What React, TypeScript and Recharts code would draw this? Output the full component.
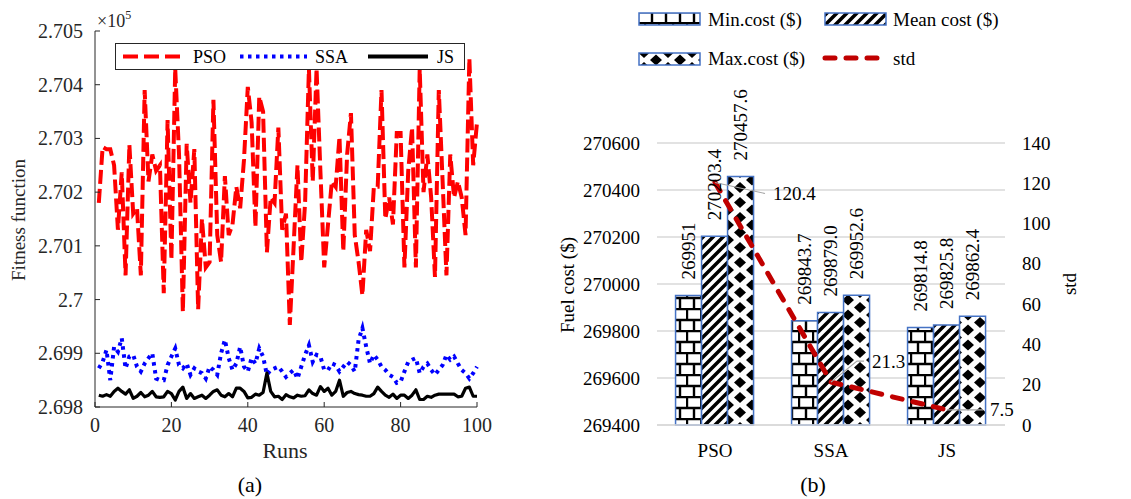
import { LineChart, Line, XAxis, YAxis, Legend, ComposedChart, Bar, CartesianGrid, LabelList } from 'recharts';

const SERIF = "'Liberation Serif', 'Times New Roman', serif";

// panel (a): fitness per run (x 1e5)
const runs = Array.from({ length: 100 }, (_, i) => i + 1);
const psoFitness = [
  2.7018, 2.70284, 2.7028, 2.7028, 2.7025, 2.7013, 2.70237, 2.70045, 2.70288, 2.7016,
  2.7017, 2.70045, 2.7039, 2.7022, 2.7027, 2.7024, 2.7025, 2.70012, 2.70334, 2.70074,
  2.7043, 2.7027, 2.69977, 2.7029, 2.7018, 2.7028, 2.69982, 2.7015, 2.7006, 2.7007,
  2.70372, 2.7012, 2.7007, 2.7023, 2.7012, 2.7014, 2.7021, 2.7017, 2.7026, 2.70396,
  2.7033, 2.70135, 2.70378, 2.7035, 2.70088, 2.7019, 2.7018, 2.7032, 2.7013, 2.7016,
  2.69953, 2.701, 2.7025, 2.7007, 2.7018, 2.7043, 2.7022, 2.7043, 2.7024, 2.7006,
  2.7014, 2.7022, 2.7021, 2.70303, 2.7009, 2.7027, 2.70347, 2.7012, 2.7007, 2.70008,
  2.7013, 2.7009, 2.7021, 2.7021, 2.7039, 2.7015, 2.7019, 2.7014, 2.7031, 2.7031,
  2.7006, 2.7024, 2.7032, 2.7006, 2.7043, 2.702, 2.7027, 2.7019, 2.70042, 2.7039,
  2.7022, 2.70045, 2.7027, 2.7019, 2.7022, 2.7019, 2.7012, 2.70449, 2.7025, 2.7033,
];
const ssaFitness = [
  2.69872, 2.69884, 2.69906, 2.6985, 2.69912, 2.69903, 2.69928, 2.69872, 2.69894, 2.69897,
  2.69875, 2.69866, 2.69881, 2.69891, 2.699, 2.69853, 2.6985, 2.6985, 2.69878, 2.69894,
  2.69909, 2.69878, 2.69872, 2.69881, 2.6986, 2.69872, 2.69866, 2.69863, 2.69853, 2.69875,
  2.69869, 2.6986, 2.699, 2.69925, 2.69891, 2.69869, 2.69881, 2.69912, 2.69875, 2.69866,
  2.69891, 2.69881, 2.69909, 2.69894, 2.6986, 2.69869, 2.69872, 2.69875, 2.69866, 2.69856,
  2.69863, 2.69869, 2.69853, 2.69875, 2.69897, 2.69915, 2.69884, 2.69897, 2.69894, 2.69869,
  2.69869, 2.69881, 2.69878, 2.69866, 2.69875, 2.69884, 2.69878, 2.69866, 2.69925, 2.69947,
  2.69912, 2.69881, 2.69897, 2.69888, 2.69875, 2.69869, 2.6986, 2.69856, 2.69845, 2.69847,
  2.69866, 2.69884, 2.69888, 2.69891, 2.69863, 2.69875, 2.69881, 2.69869, 2.6986, 2.69869,
  2.69878, 2.69897, 2.69888, 2.69894, 2.69881, 2.69869, 2.69863, 2.69853, 2.69863, 2.69875,
];
const jsFitness = [
  2.69822, 2.6982, 2.69823, 2.6982, 2.69829, 2.69835, 2.69829, 2.69824, 2.69832, 2.69816,
  2.6982, 2.69827, 2.69819, 2.69822, 2.69829, 2.69819, 2.69818, 2.69819, 2.69829, 2.69825,
  2.69813, 2.69829, 2.69837, 2.69816, 2.69825, 2.69816, 2.69819, 2.69822, 2.69816, 2.69822,
  2.69829, 2.69832, 2.69822, 2.69819, 2.69825, 2.69819, 2.69835, 2.69835, 2.69829, 2.69817,
  2.69818, 2.69824, 2.69822, 2.69827, 2.69863, 2.69829, 2.69819, 2.6982, 2.69814, 2.69823,
  2.69819, 2.69817, 2.69822, 2.6982, 2.69821, 2.69832, 2.69825, 2.69822, 2.69838, 2.69829,
  2.69835, 2.69822, 2.69829, 2.6985, 2.6982, 2.69827, 2.69829, 2.69825, 2.69823, 2.69822,
  2.6982, 2.6982, 2.69825, 2.69837, 2.69829, 2.69822, 2.69818, 2.69824, 2.69816, 2.69822,
  2.69822, 2.69816, 2.69822, 2.69832, 2.69814, 2.69814, 2.6982, 2.69818, 2.69822, 2.69824,
  2.69824, 2.69824, 2.69824, 2.69824, 2.69819, 2.6982, 2.69835, 2.69837, 2.6982, 2.6982,
];
const runTicks = [0, 20, 40, 60, 80, 100];
const fitnessTicks = [2.698, 2.699, 2.7, 2.701, 2.702, 2.703, 2.704, 2.705];

// panel (b): cost statistics
const algorithms = ['PSO', 'SSA', 'JS'];
const minCost = [269951, 269843.7, 269814.8];
const meanCost = [270203.4, 269879.0, 269825.8];
const maxCost = [270457.6, 269952.6, 269862.4];
const stdCost = [120.4, 21.3, 7.5];
const minCostText = ['269951', '269843.7', '269814.8'];
const meanCostText = ['270203.4', '269879.0', '269825.8'];
const maxCostText = ['270457.6', '269952.6', '269862.4'];
const costTicks = [269400, 269600, 269800, 270000, 270200, 270400, 270600];
const stdTicks = [0, 20, 40, 60, 80, 100, 120, 140];

const fitnessData = runs.map((run, i) => ({ run, pso: psoFitness[i], ssa: ssaFitness[i], js: jsFitness[i] }));
const costData = algorithms.map((name, i) => ({
  name,
  min: minCost[i],
  mean: meanCost[i],
  max: maxCost[i],
  std: stdCost[i],
  minText: minCostText[i],
  meanText: meanCostText[i],
  maxText: maxCostText[i],
}));

const AXIS = '#262626';
const fmtFit = (v: number) => String(Number(v.toFixed(3)));

// matlab style inward ticks
const FitYTick = (p: any) => (
  <g>
    <line x1={p.x} y1={p.y} x2={p.x + 5} y2={p.y} stroke={AXIS} />
    <text x={p.x - 12} y={p.y} textAnchor="end" dominantBaseline="central" fontSize={20} fill={AXIS} fontFamily={SERIF}>
      {fmtFit(p.payload.value)}
    </text>
  </g>
);
const FitYTickRight = (p: any) => <line x1={p.x} y1={p.y} x2={p.x - 5} y2={p.y} stroke={AXIS} />;
const RunTick = (p: any) => (
  <g>
    <line x1={p.x} y1={p.y} x2={p.x} y2={p.y - 5} stroke={AXIS} />
    <text x={p.x} y={p.y + 18} textAnchor="middle" dominantBaseline="central" fontSize={20} fill={AXIS} fontFamily={SERIF}>
      {p.payload.value}
    </text>
  </g>
);
const RunTickTop = (p: any) => <line x1={p.x} y1={p.y} x2={p.x} y2={p.y + 5} stroke={AXIS} />;

const FitLegend = () => (
  <svg width={350} height={27} style={{ display: 'block' }}>
    <rect x={0.5} y={0.5} width={349} height={26} fill="#fff" stroke={AXIS} />
    <line x1={8} y1={13.5} x2={70} y2={13.5} stroke="#ff0000" strokeWidth={4} strokeDasharray="15 6" />
    <text x={78} y={14} dominantBaseline="central" fontSize={18} fontFamily={SERIF}>PSO</text>
    <line x1={125} y1={13.5} x2={192} y2={13.5} stroke="#0000ff" strokeWidth={4} strokeDasharray="3.5 4.5" />
    <text x={200} y={14} dominantBaseline="central" fontSize={18} fontFamily={SERIF}>SSA</text>
    <line x1={253} y1={13.5} x2={313} y2={13.5} stroke="#000" strokeWidth={4} />
    <text x={322} y={14} dominantBaseline="central" fontSize={18} fontFamily={SERIF}>JS</text>
  </svg>
);

const CostYTick = (p: any) => (
  <text x={p.x - 17} y={p.y} textAnchor="end" dominantBaseline="central" fontSize={19} fill="#000" fontFamily={SERIF}>
    {p.payload.value}
  </text>
);
const StdYTick = (p: any) => (
  <text x={p.x + 17} y={p.y} textAnchor="start" dominantBaseline="central" fontSize={19} fill="#000" fontFamily={SERIF}>
    {p.payload.value}
  </text>
);
const AlgTick = (p: any) => (
  <text x={p.x} y={p.y + 25} textAnchor="middle" dominantBaseline="central" fontSize={19} fill="#000" fontFamily={SERIF}>
    {p.payload.value}
  </text>
);

const BarValueLabel = (p: any) => {
  const vb = p.viewBox || p;
  const x = vb.x + vb.width / 2;
  const y = vb.y - 16;
  return (
    <text x={x} y={y} transform={`rotate(-90 ${x} ${y})`} textAnchor="start" dominantBaseline="central" fontSize={19} fill="#000" fontFamily={SERIF}>
      {p.value}
    </text>
  );
};

// leader line + text offsets for the std labels
const stdLeaders = [
  { path: 'M0,0 L50,11', tx: 58, ty: 11 },
  { path: 'M0,0 L26,-21 L33,-21', tx: 41, ty: -21 },
  { path: 'M0,0 L36,0', tx: 43, ty: 0 },
];
const StdLabel = (p: any) => {
  const vb = p.viewBox || p;
  const idx = typeof p.index === 'number' ? p.index : stdCost.indexOf(Number(p.value));
  const l = stdLeaders[idx] || stdLeaders[0];
  return (
    <g transform={`translate(${vb.x},${vb.y})`}>
      <path d={l.path} fill="none" stroke="#a6a6a6" strokeWidth={1.2} />
      <text x={l.tx} y={l.ty} dominantBaseline="central" fontSize={19} fill="#000" fontFamily={SERIF}>
        {p.value}
      </text>
    </g>
  );
};

const CostLegend = () => (
  <svg width={571} height={80} style={{ display: 'block' }}>
    <rect x={79} y={13} width={61} height={12} fill="url(#brickFill)" stroke="#4472c4" strokeWidth={1.5} />
    <text x={148} y={19} dominantBaseline="central" fontSize={19} fontFamily={SERIF}>Min.cost ($)</text>
    <rect x={265} y={13} width={61} height={12} fill="url(#stripeFill)" stroke="#4472c4" strokeWidth={1.5} />
    <text x={333} y={19} dominantBaseline="central" fontSize={19} fontFamily={SERIF}>Mean cost ($)</text>
    <rect x={79} y={53} width={61} height={12} fill="url(#diamondFill)" stroke="#4472c4" strokeWidth={1.5} />
    <text x={148} y={58} dominantBaseline="central" fontSize={19} fontFamily={SERIF}>Max.cost ($)</text>
    <line x1={265} y1={58} x2={318} y2={58} stroke="#c00000" strokeWidth={5} strokeDasharray="10 11" strokeLinecap="round" />
    <text x={333} y={58} dominantBaseline="central" fontSize={19} fontFamily={SERIF}>std</text>
  </svg>
);

const Patterns = () => (
  <svg width={0} height={0} style={{ position: 'absolute' }}>
    <defs>
      <pattern id="brickFill" patternUnits="userSpaceOnUse" width={14} height={22}>
        <rect width={14} height={22} fill="#fff" />
        <path d="M0,1 H14 M0,12 H14 M1,1 V12 M8,12 V22" stroke="#000" strokeWidth={2.4} />
      </pattern>
      <pattern id="stripeFill" patternUnits="userSpaceOnUse" width={10} height={10}>
        <rect width={10} height={10} fill="#fff" />
        <path d="M0,10 L10,0 M-2.5,2.5 L2.5,-2.5 M7.5,12.5 L12.5,7.5" stroke="#000" strokeWidth={3.5} />
      </pattern>
      <pattern id="diamondFill" patternUnits="userSpaceOnUse" width={24} height={15}>
        <rect width={24} height={15} fill="#fff" />
        <path d="M12,2 L18,7.5 L12,13 L6,7.5 Z" fill="#000" />
        <path d="M0,-5.5 L6,0 L0,5.5 L-6,0 Z M24,-5.5 L30,0 L24,5.5 L18,0 Z M0,9.5 L6,15 L0,20.5 L-6,15 Z M24,9.5 L30,15 L24,20.5 L18,15 Z" fill="#000" />
      </pattern>
    </defs>
  </svg>
);

export default function App() {
  return (
    <div style={{ position: 'absolute', left: 0, top: 0, width: 1131, height: 499, background: '#fff', overflow: 'hidden' }}>
      <Patterns />
      <div style={{ position: 'absolute', left: 0, top: 0 }}>
        <LineChart width={520} height={460} data={fitnessData} margin={{ top: 31, right: 43, bottom: 0, left: 0 }}>
          <XAxis dataKey="run" type="number" domain={[0, 100]} ticks={runTicks} height={53} tickSize={0} tickMargin={0} tickLine={false} stroke={AXIS} tick={<RunTick />} />
          <XAxis xAxisId="top" orientation="top" dataKey="run" type="number" domain={[0, 100]} ticks={runTicks} height={0} tickSize={0} tickMargin={0} tickLine={false} stroke={AXIS} tick={<RunTickTop />} />
          <YAxis type="number" domain={[2.698, 2.705]} ticks={fitnessTicks} width={95} tickSize={0} tickMargin={0} tickLine={false} stroke={AXIS} tick={<FitYTick />} />
          <YAxis yAxisId="r" orientation="right" type="number" domain={[2.698, 2.705]} ticks={fitnessTicks} width={0} tickSize={0} tickMargin={0} tickLine={false} stroke={AXIS} tick={<FitYTickRight />} />
          <Line dataKey="pso" stroke="#ff0000" strokeWidth={4} strokeDasharray="14 5" dot={false} isAnimationActive={false} />
          <Line dataKey="ssa" stroke="#0000ff" strokeWidth={4} strokeDasharray="3.5 4.5" dot={false} isAnimationActive={false} />
          <Line dataKey="js" stroke="#000000" strokeWidth={3.2} strokeLinejoin="round" dot={false} isAnimationActive={false} />
          <Legend layout="horizontal" verticalAlign="middle" align="center" wrapperStyle={{ left: 115, top: 43, width: 350, height: 27 }} content={() => <FitLegend />} />
        </LineChart>
      </div>
      <div style={{ position: 'absolute', left: 560, top: 0 }}>
        <ComposedChart width={571} height={470} data={costData} margin={{ top: 143, right: 0, bottom: 0, left: 0 }} barCategoryGap="16%" barGap={0}>
          <CartesianGrid horizontal vertical={false} stroke="#d9d9d9" strokeWidth={1.5} />
          <XAxis dataKey="name" height={45} tickSize={0} tickMargin={0} tickLine={false} axisLine={{ stroke: '#d9d9d9', strokeWidth: 1.5 }} tick={<AlgTick />} />
          <YAxis type="number" domain={[269400, 270600]} ticks={costTicks} width={97} tickSize={0} tickMargin={0} tickLine={false} axisLine={false} tick={<CostYTick />} />
          <YAxis yAxisId="std" orientation="right" type="number" domain={[0, 140]} ticks={stdTicks} width={126} tickSize={0} tickMargin={0} tickLine={false} axisLine={false} tick={<StdYTick />} />
          <Bar dataKey="min" fill="url(#brickFill)" stroke="#4472c4" strokeWidth={1.5} isAnimationActive={false}>
            <LabelList dataKey="minText" content={<BarValueLabel />} />
          </Bar>
          <Bar dataKey="mean" fill="url(#stripeFill)" stroke="#4472c4" strokeWidth={1.5} isAnimationActive={false}>
            <LabelList dataKey="meanText" content={<BarValueLabel />} />
          </Bar>
          <Bar dataKey="max" fill="url(#diamondFill)" stroke="#4472c4" strokeWidth={1.5} isAnimationActive={false}>
            <LabelList dataKey="maxText" content={<BarValueLabel />} />
          </Bar>
          <Line yAxisId="std" dataKey="std" stroke="#c00000" strokeWidth={5} strokeDasharray="10 11" strokeLinecap="round" dot={false} isAnimationActive={false}>
            <LabelList dataKey="std" content={<StdLabel />} />
          </Line>
          <Legend layout="horizontal" verticalAlign="middle" align="center" wrapperStyle={{ left: 0, top: 0, width: 571, height: 80 }} content={() => <CostLegend />} />
        </ComposedChart>
      </div>
      <svg width={1131} height={499} style={{ position: 'absolute', left: 0, top: 0, pointerEvents: 'none' }}>
        <text x={97} y={27} fontSize={18} fill={AXIS} fontFamily={SERIF}>
          ×10<tspan fontSize={12} dy={-8}>5</tspan>
        </text>
        <text x={18} y={220} transform="rotate(-90 18 220)" textAnchor="middle" dominantBaseline="central" fontSize={19} fill={AXIS} fontFamily={SERIF}>
          Fitness function
        </text>
        <text x={285} y={450} textAnchor="middle" dominantBaseline="central" fontSize={22} fill={AXIS} fontFamily={SERIF}>Runs</text>
        <text x={250} y={484} textAnchor="middle" dominantBaseline="central" fontSize={22} fill="#000" fontFamily={SERIF}>(a)</text>
        <text x={813} y={484} textAnchor="middle" dominantBaseline="central" fontSize={22} fill="#000" fontFamily={SERIF}>(b)</text>
        <text x={567} y={285} transform="rotate(-90 567 285)" textAnchor="middle" dominantBaseline="central" fontSize={19} fill="#000" fontFamily={SERIF}>
          Fuel cost ($)
        </text>
        <text x={1069} y={284} transform="rotate(-90 1069 284)" textAnchor="middle" dominantBaseline="central" fontSize={19} fill="#000" fontFamily={SERIF}>
          std
        </text>
      </svg>
    </div>
  );
}
